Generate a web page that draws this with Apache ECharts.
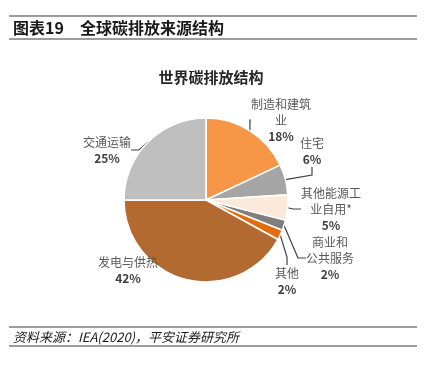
<!DOCTYPE html>
<html>
<head>
<meta charset="utf-8">
<script src="https://cdn.jsdelivr.net/npm/echarts@6/dist/echarts.min.js"></script>
<style>
  html, body { margin: 0; padding: 0; background: #fff; }
  #chart { width: 427px; height: 365px; }
</style>
</head>
<body>
<div id="chart"></div>
<script>
const FONT = '"Noto Sans CJK SC", "Noto Sans", sans-serif';

// clockwise from 12 o'clock
const sectors = ['制造和建筑业', '住宅', '其他能源工业自用*', '商业和公共服务', '其他', '发电与供热', '交通运输'];
const labelText = ['制造和建筑\n业', '住宅', '其他能源工\n业自用*', '商业和\n公共服务', '其他', '发电与供热', '交通运输'];
const shares = [18, 6, 5, 2, 2, 42, 25];
const colors = ['#f79646', '#a5a5a5', '#fde9d9', '#7f7f7f', '#e46c0a', '#b26a31', '#bfbfbf'];

// where each label block sits (centre), picked to match the source layout
const LABEL_AT = [
  [281, 120], [312, 151], [331, 209], [330, 258], [287, 281], [128, 270], [107, 150],
];
const NO_LINE = [5];

const chart = echarts.init(document.getElementById('chart'));

chart.setOption({
  animation: false,
  backgroundColor: '#fff',
  textStyle: { fontFamily: FONT },
  title: {
    text: '世界碳排放结构',
    left: 206, top: 65,
    textAlign: 'center',
    textStyle: { fontSize: 15, fontWeight: 'bold', color: '#262626', fontFamily: FONT },
  },
  graphic: [
    { type: 'line', shape: { x1: 9, y1: 16, x2: 417, y2: 16 }, style: { stroke: '#3a3a3a', lineWidth: 1.2 } },
    { type: 'line', shape: { x1: 9, y1: 39, x2: 417, y2: 39 }, style: { stroke: '#3a3a3a', lineWidth: 1.2 } },
    { type: 'text', x: 13, y: 28, style: { text: '图表19', fill: '#1a1a1a', font: 'bold 16px ' + FONT, verticalAlign: 'middle' } },
    { type: 'text', x: 80, y: 28, style: { text: '全球碳排放来源结构', fill: '#1a1a1a', font: 'bold 16px ' + FONT, verticalAlign: 'middle' } },
    { type: 'line', shape: { x1: 9, y1: 327, x2: 417, y2: 327 }, style: { stroke: '#3a3a3a', lineWidth: 1.2 } },
    { type: 'line', shape: { x1: 9, y1: 346, x2: 417, y2: 346 }, style: { stroke: '#3a3a3a', lineWidth: 1.2 } },
    { type: 'text', x: 13, y: 337, style: { text: '资料来源：IEA(2020)，平安证券研究所', fill: '#1a1a1a', font: 'italic 13px ' + FONT, verticalAlign: 'middle' } },
  ],
  series: [{
    type: 'pie',
    center: [206, 200],
    radius: 82,
    startAngle: 90,
    clockwise: true,
    data: sectors.map((name, i) => ({
      name,
      value: shares[i],
      itemStyle: { color: colors[i] },
      label: { formatter: `{n|${labelText[i]}}\n{p|${shares[i]}%}` },
      labelLine: { show: !NO_LINE.includes(i) },
    })),
    itemStyle: { borderColor: '#fff', borderWidth: 1.5 },
    label: {
      show: true,
      position: 'outside',
      align: 'center',
      lineHeight: 16,
      rich: {
        n: { fontSize: 12, color: '#595959', lineHeight: 16, fontFamily: FONT },
        p: { fontSize: 12, color: '#404040', fontWeight: 'bold', lineHeight: 16, fontFamily: FONT },
      },
    },
    labelLine: { show: true, length: 8, length2: 8, lineStyle: { color: '#404040', width: 1.2 } },
    labelLayout: p => {
      const [x, y] = LABEL_AT[p.dataIndex];
      return { x, y, align: 'center', verticalAlign: 'middle' };
    },
    emphasis: { disabled: true },
  }],
});
</script>
</body>
</html>
